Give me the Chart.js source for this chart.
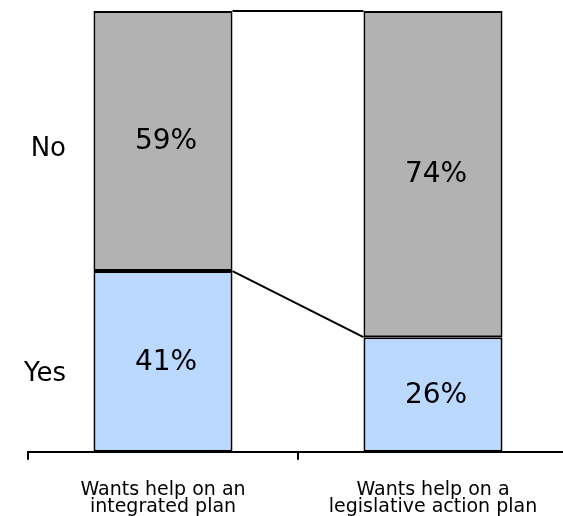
<!DOCTYPE html>
<html>
<head>
<meta charset="utf-8">
<script src="https://cdn.jsdelivr.net/npm/chart.js@4/dist/chart.umd.min.js"></script>
<style>
  html, body { margin: 0; padding: 0; background: #fff; overflow: hidden; }
  #wrap { width: 563px; height: 516px; overflow: hidden; }
</style>
</head>
<body>
<div id="wrap"><canvas id="chart" width="570" height="538"></canvas></div>
<script>
const categories = [['Wants help on an', 'integrated plan'], ['Wants help on a', 'legislative action plan']];
const seriesNames = ['Yes', 'No'];
const yesValues = [41, 26];
const noValues = [59, 74];

const FONT = '"DejaVu Sans", Verdana, sans-serif';

// connecting lines between bar segments + row labels + value labels
const decorations = {
    id: 'decorations',
    afterDatasetsDraw(chart) {
        const ctx = chart.ctx;
        const area = chart.chartArea;
        ctx.save();

        // series lines
        ctx.strokeStyle = '#000';
        ctx.lineWidth = 2;
        chart.data.datasets.forEach((ds, i) => {
            const bars = chart.getDatasetMeta(i).data;
            for (let j = 0; j < bars.length - 1; j++) {
                const a = bars[j], b = bars[j + 1];
                ctx.beginPath();
                ctx.moveTo(a.x + a.width / 2, a.y);
                ctx.lineTo(b.x - b.width / 2, b.y);
                ctx.stroke();
            }
        });

        // value labels
        ctx.fillStyle = '#000';
        ctx.font = '28px ' + FONT;
        ctx.textAlign = 'center';
        ctx.textBaseline = 'middle';
        chart.data.datasets.forEach((ds, i) => {
            chart.getDatasetMeta(i).data.forEach((bar, j) => {
                ctx.fillText(ds.data[j] + '%', bar.x + 3, (bar.y + bar.base) / 2 + 1);
            });
        });

        // row labels on the left
        ctx.font = '26px ' + FONT;
        ctx.textAlign = 'right';
        const shift = [13, 8];
        chart.data.datasets.forEach((ds, i) => {
            const bar = chart.getDatasetMeta(i).data[0];
            ctx.fillText(ds.label, area.left + 38, (bar.y + bar.base) / 2 + shift[i]);
        });
        ctx.restore();
    }
};

new Chart(document.getElementById('chart'), {
    type: 'bar',
    data: {
        labels: categories,
        datasets: [
            {
                label: seriesNames[0],
                data: yesValues,
                backgroundColor: '#bbd8fe',
                borderColor: '#000',
                borderWidth: 2,
                borderSkipped: false
            },
            {
                label: seriesNames[1],
                data: noValues,
                backgroundColor: '#b2b2b2',
                borderColor: '#000',
                borderWidth: 2,
                borderSkipped: false
            }
        ]
    },
    options: {
        responsive: false,
        animation: false,
        layout: { padding: { left: 28, top: 11, right: 2, bottom: 0 } },
        datasets: {
            bar: { barPercentage: 0.515, categoryPercentage: 1 }
        },
        scales: {
            x: {
                stacked: true,
                grid: {
                    display: true,
                    drawOnChartArea: false,
                    drawTicks: true,
                    tickLength: 8,
                    color: '#000',
                    lineWidth: 2
                },
                border: { display: true, color: '#000', width: 2 },
                ticks: {
                    color: '#000',
                    padding: 22,
                    maxRotation: 0,
                    font: { family: FONT, size: 19, lineHeight: 0.9 }
                }
            },
            y: {
                stacked: true,
                display: false,
                min: 0,
                max: 100
            }
        },
        plugins: {
            legend: { display: false },
            tooltip: { enabled: false }
        }
    },
    plugins: [decorations]
});
</script>
</body>
</html>
